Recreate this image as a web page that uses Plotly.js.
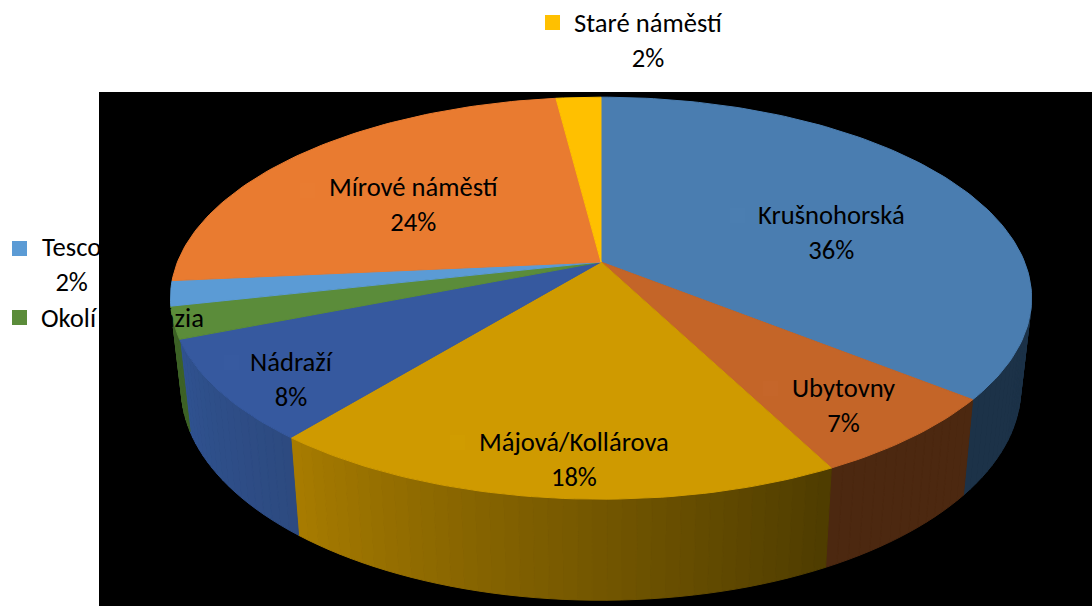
<!DOCTYPE html>
<html><head><meta charset="utf-8">
<script src="https://cdn.plot.ly/plotly-3.0.1.min.js"></script>
<style>html,body{margin:0;padding:0;background:#fff}</style></head>
<body><div id="chart" style="width:1092px;height:606px"></div>
<script>
const categories = ["Krušnohorská","Ubytovny","Májová/Kollárova","Nádraží","Okolí gymnázia","Tesco","Mírové náměstí","Staré náměstí"];
const shares = [35.8,6.65,18.4,8.1,2.55,2,24.5,2];
const percentLabels = ["36%","7%","18%","8%","2%","2%","24%","2%"];
const topColors = ["#4a7db0","#c46528","#cf9a00","#36599f","#5b8c3a","#5b9bd5","#e97b30","#ffc000"];
const wallStart = ["#1c3248","#4c2810","#a87c00","#2f5290","#3d6226","#3f6d96","#a65520","#b48800"];
const wallEnd = ["#1c3248","#4c2810","#4e3c00","#2d4a80","#3d6226","#3f6d96","#a65520","#b48800"];
const labelX = [831.5,843.5,574,292,122.5,71,413.5,648];
const labelY = [232,405.5,459.5,379.5,335,264.5,204.5,40.5];
const markerX = [737.5,770.5,457.5,231.5,19.5,19.5,307.5,552.5];
const markerY = [215.5,388.5,442.5,362.5,317.5,248.5,190.5,22.5];
const markerColors = ["#4b7eb1","#c5662a","#d09c00","#375aa0","#5b8c3a","#5b9bd5","#e97c31","#ffc000"];

const APEX=[601,262], RX=423.5, RY=194.5, K=0.18;
const total = shares.reduce((a,b)=>a+b,0);
function rim(frac, lower){
  const t=frac*2*Math.PI, u=Math.sin(t), v=Math.cos(t), d=1+K*v;
  const X=u*RX/d, Y=-v*RY/d;
  return lower ? [APEX[0]+X*0.975, APEX[1]+Y*1.055+88] : [APEX[0]+X, APEX[1]+Y];
}
function hex(c){return [1,3,5].map(i=>parseInt(c.substr(i,2),16));}
function mix(a,b,f){const A=hex(a),B=hex(b);return "rgb("+A.map((x,i)=>Math.round(x+(B[i]-x)*f)).join(",")+")";}
const traces=[];
function poly(xs,ys,color){
  traces.push({type:"scatter",mode:"lines",x:xs,y:ys,fill:"toself",fillcolor:color,
    line:{color:color,width:1},hoverinfo:"skip",showlegend:false});
}
let cum=0; const ranges=shares.map(s=>{const r=[cum/total,(cum+s)/total];cum+=s;return r;});
// walls (only the front-facing part is visible)
ranges.forEach((r,i)=>{
  const a=Math.max(r[0],0.24), b=Math.min(r[1],0.715);
  if(b<=a) return;
  const n=Math.max(2,Math.round((b-a)*220));
  for(let j=0;j<n;j++){
    const f0=a+(b-a)*j/n, f1=a+(b-a)*(j+1)/n;
    const p0=rim(f0),p1=rim(f1),q1=rim(f1,true),q0=rim(f0,true);
    poly([p0[0],p1[0],q1[0],q0[0],p0[0]],[p0[1],p1[1],q1[1],q0[1],p0[1]],mix(wallEnd[i],wallStart[i],(j+0.5)/n));
  }
});
// top face
ranges.forEach((r,i)=>{
  const xs=[APEX[0]],ys=[APEX[1]];
  const n=Math.max(4,Math.round((r[1]-r[0])*300));
  for(let j=0;j<=n;j++){const p=rim(r[0]+(r[1]-r[0])*j/n);xs.push(p[0]);ys.push(p[1]);}
  xs.push(APEX[0]);ys.push(APEX[1]);
  poly(xs,ys,topColors[i]);
});
// legend keys inside labels
traces.push({type:"scatter",mode:"markers",x:markerX,y:markerY,
  marker:{symbol:"square",size:15,color:markerColors,line:{width:0}},hoverinfo:"skip",showlegend:false});
const annotations=[];
categories.forEach((c,i)=>{
  annotations.push({x:labelX[i],y:labelY[i],xref:"x",yref:"y",showarrow:false,align:"center",
    text:c+"<br>"+percentLabels[i],
    font:{family:"Carlito, Lato, Liberation Sans, sans-serif",size:26.6,color:"#000"}});
});
Plotly.newPlot("chart",traces,{
  width:1092,height:606,margin:{l:0,r:0,t:0,b:0},paper_bgcolor:"#fff",plot_bgcolor:"#fff",showlegend:false,
  xaxis:{range:[0,1092],visible:false,fixedrange:true},
  yaxis:{range:[606,0],visible:false,fixedrange:true},
  shapes:[{type:"rect",xref:"x",yref:"y",x0:99,x1:1092,y0:92,y1:606,fillcolor:"#000",line:{width:0},layer:"below"}],
  annotations
},{displayModeBar:false,staticPlot:true});
</script></body></html>
